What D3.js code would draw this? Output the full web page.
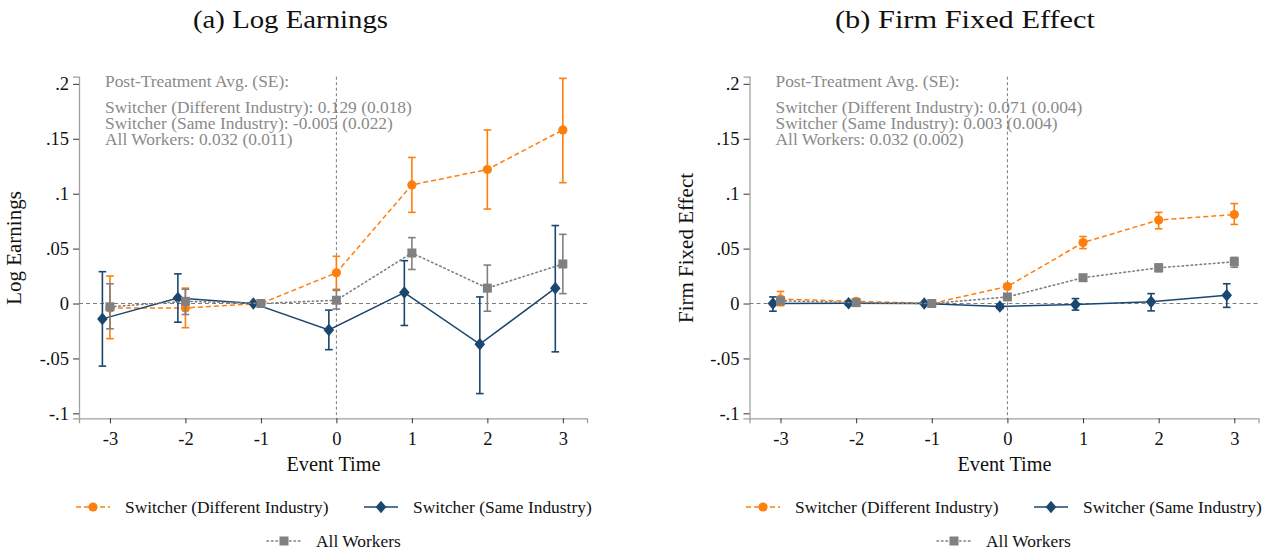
<!DOCTYPE html>
<html><head><meta charset="utf-8">
<script src="https://cdn.jsdelivr.net/npm/d3@7"></script>
<style>body{margin:0;background:#fff}svg{display:block}text{font-family:"Liberation Serif","Times New Roman",serif}</style>
</head><body>
<script>
const eventTimes = [-3, -2, -1, 0, 1, 2, 3];
const yTicks = [0.2, 0.15, 0.1, 0.05, 0, -0.05, -0.1];
const yTickLabels = [".2", ".15", ".1", ".05", "0", "-.05", "-.1"];
const seriesNames = ["Switcher (Different Industry)", "Switcher (Same Industry)", "All Workers"];

// Panel (a) Log Earnings
const earnDiff    = [-0.004, -0.004, 0, 0.028, 0.108, 0.122, 0.158];
const earnDiffLo  = [-0.032, -0.022, 0, 0.013, 0.083, 0.086, 0.110];
const earnDiffHi  = [0.025, 0.014, 0, 0.043, 0.133, 0.158, 0.205];
const earnSame    = [-0.014, 0.005, 0, -0.024, 0.010, -0.037, 0.014];
const earnSameLo  = [-0.057, -0.017, 0, -0.042, -0.020, -0.082, -0.044];
const earnSameHi  = [0.029, 0.027, 0, -0.006, 0.039, 0.006, 0.071];
const earnAll     = [-0.003, 0.002, 0, 0.003, 0.046, 0.014, 0.036];
const earnAllLo   = [-0.023, -0.010, 0, -0.005, 0.031, -0.007, 0.009];
const earnAllHi   = [0.018, 0.013, 0, 0.012, 0.060, 0.035, 0.063];

// Panel (b) Firm Fixed Effect
const ffeDiff     = [0.004, 0.002, 0, 0.0155, 0.0555, 0.076, 0.081];
const ffeDiffLo   = [-0.002, 0.000, 0, 0.013, 0.050, 0.068, 0.072];
const ffeDiffHi   = [0.011, 0.004, 0, 0.018, 0.061, 0.083, 0.091];
const ffeSame     = [0.000, 0.0003, 0, -0.0027, -0.001, 0.0015, 0.0075];
const ffeSameLo   = [-0.007, -0.0015, 0, -0.0045, -0.006, -0.0067, -0.0035];
const ffeSameHi   = [0.006, 0.002, 0, -0.001, 0.0045, 0.009, 0.018];
const ffeAll      = [0.0025, 0.0008, 0, 0.006, 0.0235, 0.0325, 0.038];
const ffeAllLo    = [0.0005, -0.0005, 0, 0.005, 0.0215, 0.029, 0.033];
const ffeAllHi    = [0.0045, 0.002, 0, 0.007, 0.0255, 0.036, 0.042];

const earnNotes = ["Post-Treatment Avg. (SE):", "Switcher (Different Industry): 0.129 (0.018)", "Switcher (Same Industry): -0.005 (0.022)", "All Workers: 0.032 (0.011)"];
const ffeNotes  = ["Post-Treatment Avg. (SE):", "Switcher (Different Industry): 0.071 (0.004)", "Switcher (Same Industry): 0.003 (0.004)", "All Workers: 0.032 (0.002)"];

const ORANGE = "#ff7f0e", NAVY = "#1a476f", GRAY = "#808080";

const svg = d3.select("body").append("svg").attr("width", 1276).attr("height", 554);

function panel(cfg) {
  const g = svg.append("g");
  const x = d3.scaleLinear().domain([-3.41, 3.32]).range([cfg.x0, cfg.x1]);
  const y = d3.scaleLinear().domain([-0.1045, 0.2065]).range([418.3, 76.7]);

  // title
  g.append("text").attr("x", cfg.titleX).attr("y", 28).attr("text-anchor", "middle")
    .attr("font-size", 25).attr("fill", "#111")
    .attr("textLength", cfg.titleW).attr("lengthAdjust", "spacingAndGlyphs").text(cfg.title);

  // notes
  const nt = g.append("g");
  const ys = [87.3, 112.5, 128.8, 145.3];
  cfg.notes.forEach((t, i) => nt.append("text").attr("x", cfg.x0 + 26).attr("y", ys[i])
    .attr("font-size", 17.4).attr("fill", "#8a8a8a").text(t));

  // axes
  const yAxis = d3.axisLeft(y).tickValues(yTicks).tickFormat((d, i) => yTickLabels[i]).tickSize(6).tickPadding(4);
  const ya = g.append("g").attr("transform", `translate(${cfg.x0},0)`).call(yAxis);
  const xAxis = d3.axisBottom(x).tickValues(eventTimes).tickFormat(d => d3.format("d")(d).replace("−", "-")).tickSize(5).tickPadding(9);
  const xa = g.append("g").attr("transform", `translate(0,418.3)`).call(xAxis);
  [ya, xa].forEach(a => {
    a.select(".domain").attr("stroke", "#a0a0a0").attr("stroke-width", 1.3);
    a.selectAll(".tick line").attr("stroke", "#333").attr("stroke-width", 1);
    a.selectAll(".tick text").attr("font-size", 18.5).attr("fill", "#111")
      .attr("font-family", '"Liberation Serif", serif');
  });

  g.append("text").attr("transform", `translate(${cfg.yLabX},${248}) rotate(-90)`)
    .attr("text-anchor", "middle").attr("font-size", 21).attr("fill", "#111").text(cfg.yLabel);
  g.append("text").attr("x", (cfg.x0 + cfg.x1) / 2 + 0.5).attr("y", 471).attr("text-anchor", "middle")
    .attr("font-size", 20.3).attr("fill", "#111").text("Event Time");

  // reference lines
  g.append("line").attr("x1", cfg.x0).attr("x2", cfg.x1).attr("y1", y(0)).attr("y2", y(0))
    .attr("stroke", "#7a7a7a").attr("stroke-width", 1).attr("stroke-dasharray", "4,3");
  g.append("line").attr("x1", x(0)).attr("x2", x(0)).attr("y1", 76.7).attr("y2", 418.3)
    .attr("stroke", "#7a7a7a").attr("stroke-width", 1).attr("stroke-dasharray", "3,2.5");

  const series = [
    {v: cfg.diff, lo: cfg.diffLo, hi: cfg.diffHi, color: ORANGE, off: 0, dash: "5,3", shape: "circle"},
    {v: cfg.same, lo: cfg.sameLo, hi: cfg.sameHi, color: NAVY, off: -0.1, dash: null, shape: "diamond"},
    {v: cfg.all, lo: cfg.allLo, hi: cfg.allHi, color: GRAY, off: 0, dash: "1.5,3", shape: "square"}
  ];
  series.forEach(s => {
    const pts = eventTimes.map((t, i) => ({t: t + s.off, v: s.v[i], lo: s.lo[i], hi: s.hi[i]}));
    const eb = g.append("g");
    pts.forEach(p => {
      if (p.hi - p.lo < 1e-9) return;
      const cx = x(p.t);
      eb.append("line").attr("x1", cx).attr("x2", cx).attr("y1", y(p.lo)).attr("y2", y(p.hi))
        .attr("stroke", s.color).attr("stroke-width", 1.6);
      [p.lo, p.hi].forEach(vv => eb.append("line").attr("x1", cx - 3.8).attr("x2", cx + 3.8)
        .attr("y1", y(vv)).attr("y2", y(vv)).attr("stroke", s.color).attr("stroke-width", 1.6));
    });
    const line = d3.line().x(p => x(p.t)).y(p => y(p.v));
    g.append("path").datum(pts).attr("d", line).attr("fill", "none").attr("stroke", s.color)
      .attr("stroke-width", s.shape === "square" ? 1.6 : 1.5).attr("stroke-dasharray", s.dash)
      .attr("stroke-linecap", s.shape === "square" ? "round" : "butt");
    pts.forEach(p => drawMarker(g, s.shape, x(p.t), y(p.v), s.color));
  });

  // legend
  const lg = g.append("g");
  cfg.legend.forEach((L, i) => {
    const s = series[i];
    lg.append("line").attr("x1", L.x).attr("x2", L.x + 34).attr("y1", L.y).attr("y2", L.y)
      .attr("stroke", s.color).attr("stroke-width", s.shape === "square" ? 1.6 : 1.5)
      .attr("stroke-dasharray", s.dash).attr("stroke-linecap", s.shape === "square" ? "round" : "butt");
    drawMarker(lg, s.shape, L.x + 17, L.y, s.color);
    lg.append("text").attr("x", L.x + 49).attr("y", L.y + 5.8).attr("font-size", 17.4).attr("fill", "#111").text(seriesNames[i]);
  });
}

function drawMarker(g, shape, cx, cy, color) {
  if (shape === "circle") g.append("circle").attr("cx", cx).attr("cy", cy).attr("r", 4.6).attr("fill", color);
  else if (shape === "diamond") g.append("path").attr("d", `M${cx},${cy - 6.3}L${cx + 5.3},${cy}L${cx},${cy + 6.3}L${cx - 5.3},${cy}Z`).attr("fill", color);
  else g.append("rect").attr("x", cx - 4.5).attr("y", cy - 4.5).attr("width", 9).attr("height", 9).attr("fill", color);
}

panel({x0: 79, x1: 587, title: "(a) Log Earnings", titleX: 290.5, titleW: 195, yLabel: "Log Earnings", yLabX: 21,
  notes: earnNotes,
  diff: earnDiff, diffLo: earnDiffLo, diffHi: earnDiffHi,
  same: earnSame, sameLo: earnSameLo, sameHi: earnSameHi,
  all: earnAll, allLo: earnAllLo, allHi: earnAllHi,
  legend: [{x: 76, y: 507}, {x: 364, y: 507}, {x: 267, y: 541}]});

panel({x0: 749.5, x1: 1258.5, title: "(b) Firm Fixed Effect", titleX: 965, titleW: 260, yLabel: "Firm Fixed Effect", yLabX: 693,
  notes: ffeNotes,
  diff: ffeDiff, diffLo: ffeDiffLo, diffHi: ffeDiffHi,
  same: ffeSame, sameLo: ffeSameLo, sameHi: ffeSameHi,
  all: ffeAll, allLo: ffeAllLo, allHi: ffeAllHi,
  legend: [{x: 746, y: 507}, {x: 1034, y: 507}, {x: 937, y: 541}]});
</script>
</body></html>
